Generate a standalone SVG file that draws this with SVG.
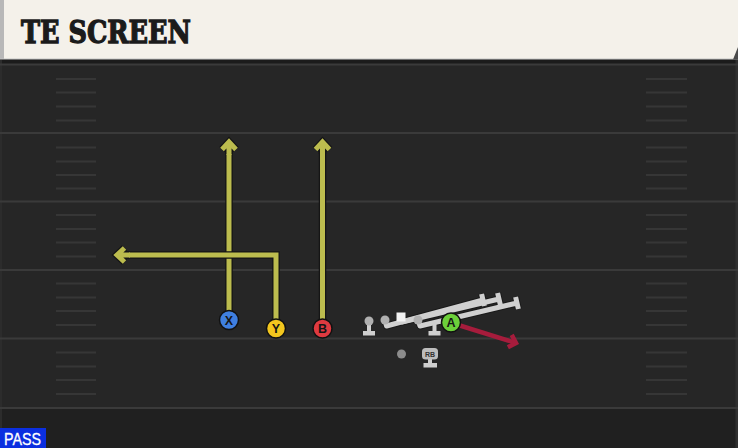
<svg xmlns="http://www.w3.org/2000/svg" width="738" height="448" viewBox="0 0 738 448">
  <style>
    .yard { stroke: #3a3a3a; stroke-width: 2; }
    .hash { stroke: #363636; stroke-width: 2; }
    .rt-o { fill: none; stroke: #151515; stroke-width: 7.5; stroke-linejoin: miter; }
    .rt-y { fill: none; stroke: #bcbc4e; stroke-width: 5; stroke-linejoin: miter; }
    .rt-r { fill: none; stroke: #a61c3c; stroke-width: 4.5; }
    .blk-o { fill: none; stroke: #1a1a1a; stroke-width: 7; stroke-linejoin: round; }
    .blk { fill: none; stroke: #d0d0d0; stroke-width: 5; stroke-linejoin: round; }
    .ply { stroke: #111; stroke-width: 1.5; }
    .lbl { font-family: "Liberation Sans", Arial, sans-serif; font-weight: bold; font-size: 12.5px; fill: #151515; text-anchor: middle; }
    .ol-stem { stroke: #cfcfcf; stroke-width: 4; }
    .ol-base { fill: #cfcfcf; }
    .ol-dot { fill: #b0b0b0; }
  </style>
  <defs>
    <marker id="arrY" markerUnits="userSpaceOnUse" orient="auto" overflow="visible" markerWidth="1" markerHeight="1" refX="0" refY="0">
      <path d="M-7.5,-7 L0,0 L-7.5,7 M0,0 L-12,0" fill="none" stroke="#151515" stroke-width="7.5"/>
      <path d="M-7.5,-7 L0,0 L-7.5,7 M0,0 L-13,0" fill="none" stroke="#bcbc4e" stroke-width="5"/>
    </marker>
    <marker id="arrR" markerUnits="userSpaceOnUse" orient="auto" overflow="visible" markerWidth="1" markerHeight="1" refX="0" refY="0">
      <path d="M-6.5,-6.5 L0,0 L-6.5,6.5" fill="none" stroke="#a61c3c" stroke-width="4.5"/>
    </marker>
  </defs>

  <!-- field -->
  <g id="field">
    <rect x="0" y="0" width="738" height="448" fill="#262626"/>
    <rect x="0" y="408" width="738" height="40" fill="#202020"/>
    <rect x="0" y="59" width="738" height="5" fill="#1b1b1b"/>
    <rect x="735.5" y="60" width="2.5" height="388" fill="#303030"/>
    <rect x="0" y="60" width="2" height="388" fill="#2c2c2c"/>
    <line class="yard" x1="0" y1="64.5" x2="738" y2="64.5"/>
    <line class="yard" x1="0" y1="133" x2="738" y2="133"/>
    <line class="yard" x1="0" y1="201.5" x2="738" y2="201.5"/>
    <line class="yard" x1="0" y1="270" x2="738" y2="270"/>
    <line class="yard" x1="0" y1="338.5" x2="738" y2="338.5"/>
    <line class="yard" x1="0" y1="408" x2="738" y2="408"/>
    <g id="hash-left">
      <line class="hash" x1="56" y1="79" x2="96" y2="79"/>
      <line class="hash" x1="56" y1="92.5" x2="96" y2="92.5"/>
      <line class="hash" x1="56" y1="106.5" x2="96" y2="106.5"/>
      <line class="hash" x1="56" y1="120.5" x2="96" y2="120.5"/>
      <line class="hash" x1="56" y1="147.5" x2="96" y2="147.5"/>
      <line class="hash" x1="56" y1="161.5" x2="96" y2="161.5"/>
      <line class="hash" x1="56" y1="175" x2="96" y2="175"/>
      <line class="hash" x1="56" y1="188.5" x2="96" y2="188.5"/>
      <line class="hash" x1="56" y1="215" x2="96" y2="215"/>
      <line class="hash" x1="56" y1="229" x2="96" y2="229"/>
      <line class="hash" x1="56" y1="242.5" x2="96" y2="242.5"/>
      <line class="hash" x1="56" y1="256.5" x2="96" y2="256.5"/>
      <line class="hash" x1="56" y1="283.5" x2="96" y2="283.5"/>
      <line class="hash" x1="56" y1="297.5" x2="96" y2="297.5"/>
      <line class="hash" x1="56" y1="311" x2="96" y2="311"/>
      <line class="hash" x1="56" y1="325" x2="96" y2="325"/>
      <line class="hash" x1="56" y1="352.5" x2="96" y2="352.5"/>
      <line class="hash" x1="56" y1="366.5" x2="96" y2="366.5"/>
      <line class="hash" x1="56" y1="380" x2="96" y2="380"/>
      <line class="hash" x1="56" y1="394" x2="96" y2="394"/>
    </g>
    <g id="hash-right">
      <line class="hash" x1="646" y1="79" x2="687" y2="79"/>
      <line class="hash" x1="646" y1="92.5" x2="687" y2="92.5"/>
      <line class="hash" x1="646" y1="106.5" x2="687" y2="106.5"/>
      <line class="hash" x1="646" y1="120.5" x2="687" y2="120.5"/>
      <line class="hash" x1="646" y1="147.5" x2="687" y2="147.5"/>
      <line class="hash" x1="646" y1="161.5" x2="687" y2="161.5"/>
      <line class="hash" x1="646" y1="175" x2="687" y2="175"/>
      <line class="hash" x1="646" y1="188.5" x2="687" y2="188.5"/>
      <line class="hash" x1="646" y1="215" x2="687" y2="215"/>
      <line class="hash" x1="646" y1="229" x2="687" y2="229"/>
      <line class="hash" x1="646" y1="242.5" x2="687" y2="242.5"/>
      <line class="hash" x1="646" y1="256.5" x2="687" y2="256.5"/>
      <line class="hash" x1="646" y1="283.5" x2="687" y2="283.5"/>
      <line class="hash" x1="646" y1="297.5" x2="687" y2="297.5"/>
      <line class="hash" x1="646" y1="311" x2="687" y2="311"/>
      <line class="hash" x1="646" y1="325" x2="687" y2="325"/>
      <line class="hash" x1="646" y1="352.5" x2="687" y2="352.5"/>
      <line class="hash" x1="646" y1="366.5" x2="687" y2="366.5"/>
      <line class="hash" x1="646" y1="380" x2="687" y2="380"/>
      <line class="hash" x1="646" y1="394" x2="687" y2="394"/>
    </g>
  </g>

  <!-- header -->
  <g id="header">
    <rect x="0" y="0" width="738" height="59" fill="#f4f1ea"/>
    <rect x="0" y="0" width="4" height="59" fill="#b8b8b8"/>
    <line x1="0" y1="59" x2="738" y2="59" stroke="#c4c4c4" stroke-width="1"/>
    <polygon points="733,59.5 738,47 738,59.5" fill="#4a4a4a"/>
    <text x="21" y="43" font-family="'DejaVu Serif', 'Liberation Serif', serif" font-weight="bold" font-size="31" fill="#1b1b1b" stroke="#1b1b1b" stroke-width="1.3" stroke-linejoin="miter" textLength="170" lengthAdjust="spacingAndGlyphs">TE SCREEN</text>
  </g>

  <!-- connectors -->
  <g id="connectors">
    <g id="route-x">
      <path class="rt-o" d="M229,320 V142"/>
      <path class="rt-y" d="M229,320 V142" marker-end="url(#arrY)"/>
    </g>
    <g id="route-y">
      <path class="rt-o" d="M276,328 V255 H117"/>
      <path class="rt-y" d="M276,328 V255 H117" marker-end="url(#arrY)"/>
    </g>
    <g id="route-b">
      <path class="rt-o" d="M322.5,328 V142"/>
      <path class="rt-y" d="M322.5,328 V142" marker-end="url(#arrY)"/>
    </g>
    <g id="route-a">
      <path class="rt-r" d="M455,324 L516,343" marker-end="url(#arrR)"/>
    </g>
    <g id="screen-blocks">
      <path class="blk-o" d="M385,320 L386.5,326 L483,300 M481.6,294 L484.4,306"/>
      <path class="blk-o" d="M401,317 L402,322 L499,299 M497.6,293 L500.4,305"/>
      <path class="blk-o" d="M418,320 L420,326 L517,303 M515.6,297 L518.4,309"/>
      <path class="blk" d="M385,320 L386.5,326 L483,300 M481.6,294 L484.4,306"/>
      <path class="blk" d="M401,317 L402,322 L499,299 M497.6,293 L500.4,305"/>
      <path class="blk" d="M418,320 L420,326 L517,303 M515.6,297 L518.4,309"/>
    </g>
  </g>

  <!-- offensive line and backfield -->
  <g id="ol-lt">
    <line class="ol-stem" x1="369" y1="321" x2="369" y2="333"/>
    <rect class="ol-base" x="363" y="331" width="12" height="4.5"/>
    <circle class="ol-dot" cx="369" cy="321" r="4.5"/>
  </g>
  <g id="ol-lg">
    <circle class="ol-dot" cx="385" cy="320" r="4.5"/>
  </g>
  <g id="ol-c">
    <rect x="396.5" y="312.5" width="9" height="9" fill="#f2f2f2"/>
  </g>
  <g id="ol-rg">
    <circle class="ol-dot" cx="418" cy="320" r="4.5"/>
  </g>
  <g id="ol-rt">
    <line class="ol-stem" x1="434.5" y1="322" x2="434.5" y2="333"/>
    <rect class="ol-base" x="428.5" y="331" width="12" height="4.5"/>
  </g>
  <g id="qb">
    <circle cx="401.5" cy="354" r="4.5" fill="#8c8c8c"/>
  </g>
  <g id="rb">
    <line class="ol-stem" x1="430" y1="359" x2="430" y2="365"/>
    <rect class="ol-base" x="423.5" y="363" width="13.5" height="4.5"/>
    <rect x="422" y="348" width="16" height="11.5" rx="3.5" fill="#bdbdbd"/>
    <text x="430" y="356.5" font-family="'Liberation Sans', Arial, sans-serif" font-weight="bold" font-size="7" fill="#333" text-anchor="middle">RB</text>
  </g>

  <!-- eligible receivers -->
  <g id="player-x">
    <circle class="ply" cx="229" cy="320" r="9.5" fill="#3f7fe0"/>
    <text class="lbl" x="229" y="324.5">X</text>
  </g>
  <g id="player-y">
    <circle class="ply" cx="276" cy="328.5" r="9.5" fill="#f2c61e"/>
    <text class="lbl" x="276" y="333">Y</text>
  </g>
  <g id="player-b">
    <circle class="ply" cx="322.5" cy="328.5" r="9.5" fill="#df3a40"/>
    <text class="lbl" x="322.5" y="333">B</text>
  </g>
  <g id="player-a">
    <circle class="ply" cx="451" cy="322.5" r="9.5" fill="#6cd03a"/>
    <text class="lbl" x="451" y="327">A</text>
  </g>

  <!-- play type label -->
  <g id="pass-label">
    <rect x="0" y="428" width="46" height="20" fill="#0b2fe0"/>
    <text x="4" y="445" font-family="'Liberation Sans', Arial, sans-serif" font-size="16.5" fill="#ffffff" stroke="#ffffff" stroke-width="0.3" textLength="37" lengthAdjust="spacingAndGlyphs">PASS</text>
  </g>
</svg>
